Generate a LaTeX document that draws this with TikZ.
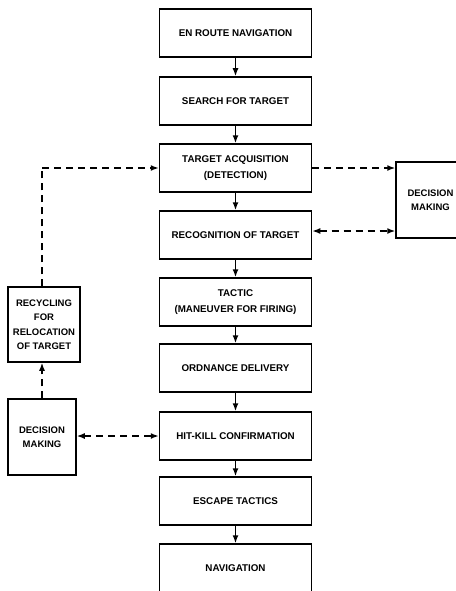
\documentclass[tikz,border=0pt]{standalone}
\usepackage{fontspec}
\setmainfont{Liberation Sans}
\usetikzlibrary{arrows.meta}
\begin{document}
\begin{tikzpicture}[x=1pt,y=-1pt,
  box/.style={draw, line width=1.5pt, minimum width=152pt, minimum height=48pt, inner sep=0pt, align=center, font=\bfseries\fontsize{9.8}{16}\selectfont},
  sidebox/.style={draw, line width=1.5pt, inner sep=0pt, align=center, font=\bfseries\fontsize{9.5}{14.5}\selectfont},
  tip/.tip={Latex[length=8pt,width=6pt]},
  flow/.style={line width=1.5pt, -tip},
  dflow/.style={line width=1.5pt, dash pattern=on 7pt off 5pt, -tip},
  dflowb/.style={line width=1.5pt, dash pattern=on 7pt off 5pt, tip-tip},
  dline/.style={line width=1.5pt, dash pattern=on 7pt off 5pt}]
\useasboundingbox (0,0) rectangle (455,591);
\node[box] (b1) at (235.5,33) {EN ROUTE NAVIGATION};
\node[box] (b2) at (235.5,101) {SEARCH FOR TARGET};
\node[box] (b3) at (235.5,168) {TARGET ACQUISITION\\(DETECTION)};
\node[box] (b4) at (235.5,235) {RECOGNITION OF TARGET};
\node[box] (b5) at (235.5,302) {TACTIC\\(MANEUVER FOR FIRING)};
\node[box] (b6) at (235.5,368) {ORDNANCE DELIVERY};
\node[box] (b7) at (235.5,436) {HIT-KILL CONFIRMATION};
\node[box] (b8) at (235.5,501) {ESCAPE TACTICS};
\node[box] (b9) at (235.5,568) {NAVIGATION};
\node[sidebox, minimum width=69pt, minimum height=76pt] (dr) at (430.5,200) {DECISION\\MAKING};
\node[sidebox, minimum width=72pt, minimum height=75pt] (rc) at (44,324.5) {RECYCLING\\FOR\\RELOCATION\\OF TARGET};
\node[sidebox, minimum width=68pt, minimum height=76pt] (dl) at (42,437) {DECISION\\MAKING};
\foreach \a/\b in {b1/b2,b2/b3,b3/b4,b4/b5,b5/b6,b6/b7,b7/b8,b8/b9}
  \draw[flow] (\a) -- (\b);
\draw[dflow] (b3.east) -- (b3.east -| dr.west);
\draw[dflowb] (b4.east |- 0,231) -- (dr.west |- 0,231);
\coordinate (tl) at (42,168);
\draw[dline] (rc.north -| tl) -- (tl);
\draw[dflow] (tl) -- (b3.west);
\draw[dflow] (dl.north) -- (dl.north |- rc.south);
\draw[dflowb] (dl.east |- b7) -- (b7.west);
\end{tikzpicture}
\end{document}
